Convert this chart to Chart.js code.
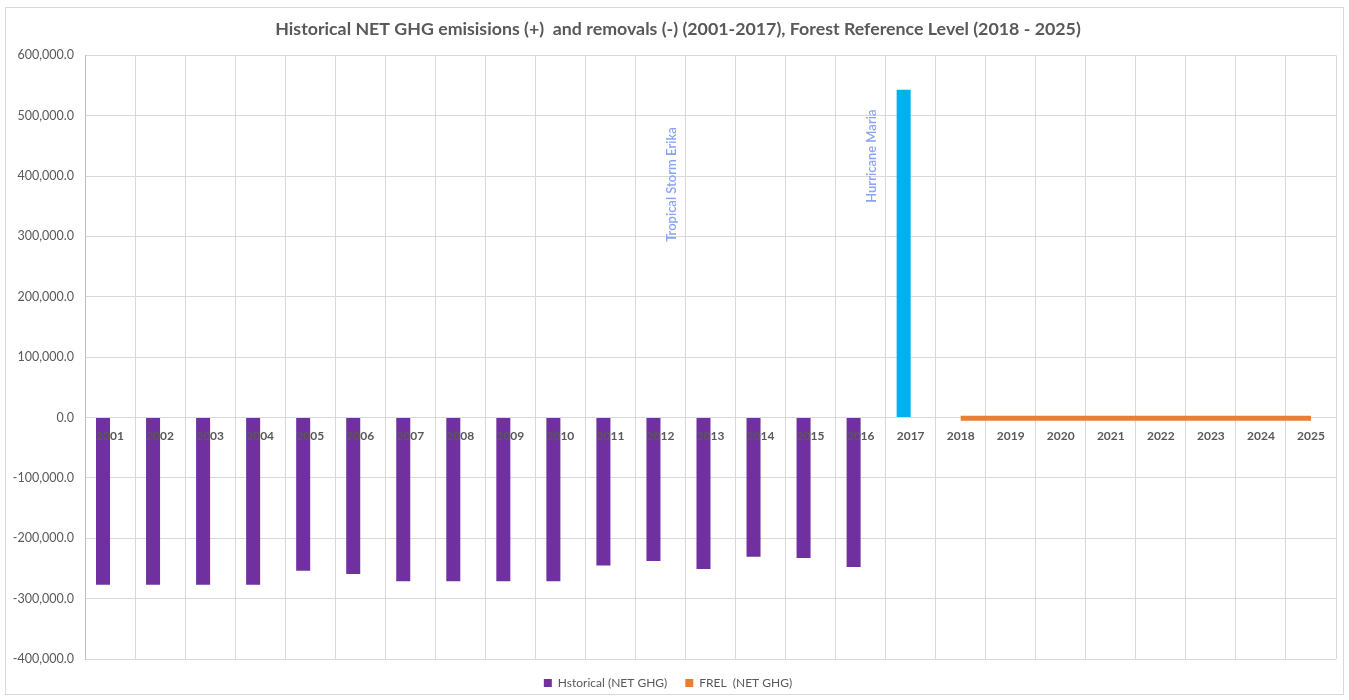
<!DOCTYPE html>
<html>
<head>
<meta charset="utf-8">
<title>Historical NET GHG emissions and FREL</title>
<script src="https://cdn.jsdelivr.net/npm/chart.js@4/dist/chart.umd.min.js"></script>
<style>
  html, body { margin: 0; padding: 0; background: #fff; }
  #wrap { position: relative; width: 1349px; height: 700px; }
  #frame { position: absolute; left: 5px; top: 7px; width: 1337px; height: 686px; border: 1px solid #d9d9d9; }
  #chart { position: absolute; left: 0; top: 0; }
</style>
</head>
<body>
<div id="wrap">
  <div id="frame"></div>
  <canvas id="chart" width="1349" height="700"></canvas>
</div>
<script>
// ==========================
// DATA
// ==========================

const years = ["2001", "2002", "2003", "2004", "2005", "2006", "2007", "2008", "2009",
  "2010", "2011", "2012", "2013", "2014", "2015", "2016", "2017",
  "2018", "2019", "2020", "2021", "2022", "2023", "2024", "2025"];

// historical net GHG, 2001-2017 (2018 onward empty)
const historical = [-277000, -277000, -277000, -277000, -254000, -259000, -271000, -271000, -271000,
  -271000, -245000, -237500, -251000, -230500, -232500, -247500, 543000,
  null, null, null, null, null, null, null, null];

// forest reference level, 2018-2025
const frel = [null, null, null, null, null, null, null, null, null,
  null, null, null, null, null, null, null, null,
  -1000, -1000, -1000, -1000, -1000, -1000, -1000, -1000];

const yTicks = [600000, 500000, 400000, 300000, 200000, 100000, 0, -100000, -200000, -300000, -400000];

const notes = [
  { text: "Tropical Storm Erika", year: "2012", value: 386000 },
  { text: "Hurricane Maria", year: "2016", value: 433000 }
];

// ==========================
// COLORS
// ==========================

const purple = "#7030A0";
const blue = "#00B0F0";
const orange = "#ED7D31";
const grey = "#595959";

const barColors = years.map(y => y === "2017" ? blue : purple);

// ==========================
// PLUGINS
// ==========================

// rotated storm labels
const notesPlugin = {
  id: "notes",
  afterDatasetsDraw(chart) {
    const ctx = chart.ctx;
    const xs = chart.scales.x;
    const ys = chart.scales.y;
    ctx.save();
    ctx.font = "600 13px Lato";
    ctx.fillStyle = "#8AA4F5";
    ctx.textAlign = "center";
    ctx.textBaseline = "middle";
    notes.forEach(n => {
      const x = xs.getPixelForValue(years.indexOf(n.year)) + 11;
      const y = ys.getPixelForValue(n.value);
      ctx.save();
      ctx.translate(x, y);
      ctx.rotate(-Math.PI / 2);
      ctx.fillText(n.text, 0, 0);
      ctx.restore();
    });
    ctx.restore();
  }
};

// nudge title so it is centred like the original
const titleShift = {
  id: "titleShift",
  afterLayout(chart) {
    if (chart.titleBlock) chart.titleBlock.left = 20;
  }
};

// ==========================
// CHART
// ==========================

Chart.defaults.font.family = "Lato";
Chart.defaults.color = grey;

const chart = new Chart(document.getElementById("chart"), {
  type: "bar",
  data: {
    labels: years,
    datasets: [
      {
        label: "Hstorical (NET GHG)",
        data: historical,
        backgroundColor: barColors,
        borderWidth: 0,
        categoryPercentage: 0.56,
        barPercentage: 1
      },
      {
        label: "spacer",
        data: years.map(() => null),
        categoryPercentage: 0.56,
        barPercentage: 1
      },
      {
        type: "line",
        label: "FREL  (NET GHG)",
        data: frel,
        borderColor: orange,
        backgroundColor: orange,
        borderWidth: 5,
        pointRadius: 0,
        spanGaps: false
      }
    ]
  },
  options: {
    responsive: false,
    animation: false,
    layout: { padding: { left: 0, right: 13, bottom: 1 } },
    plugins: {
      title: {
        display: true,
        text: "Historical NET GHG emisisions (+)  and removals (-) (2001-2017), Forest Reference Level (2018 - 2025)",
        color: grey,
        font: { size: 17.8, weight: "bold" },
        padding: { top: 19, bottom: 15 }
      },
      legend: {
        position: "bottom",
        labels: {
          boxWidth: 8,
          boxHeight: 8,
          font: { size: 12 },
          color: grey,
          padding: 18,
          filter: item => item.text !== "spacer",
          generateLabels: c => Chart.defaults.plugins.legend.labels.generateLabels(c)
            .map(l => Object.assign(l, { lineWidth: 0 }))
        }
      },
      tooltip: { enabled: false }
    },
    scales: {
      x: {
        position: { y: 0 },
        grid: { color: "#d9d9d9", drawTicks: false, offset: true },
        border: { color: "#d9d9d9" },
        ticks: { z: 1, padding: 11, color: grey, font: { size: 12, weight: "bold" }, maxRotation: 0, autoSkip: false }
      },
      y: {
        min: -400000,
        max: 600000,
        grid: { color: "#d9d9d9", drawTicks: false },
        border: { color: "#bfbfbf" },
        afterBuildTicks: s => { s.ticks = yTicks.map(v => ({ value: v })); },
        afterFit: s => { s.width = 85; },
        ticks: {
          padding: 11,
          color: grey,
          font: { size: 12.5 },
          callback: v => v.toLocaleString("en-US", { minimumFractionDigits: 1, maximumFractionDigits: 1 })
        }
      }
    }
  },
  plugins: [notesPlugin, titleShift]
});
</script>
</body>
</html>
